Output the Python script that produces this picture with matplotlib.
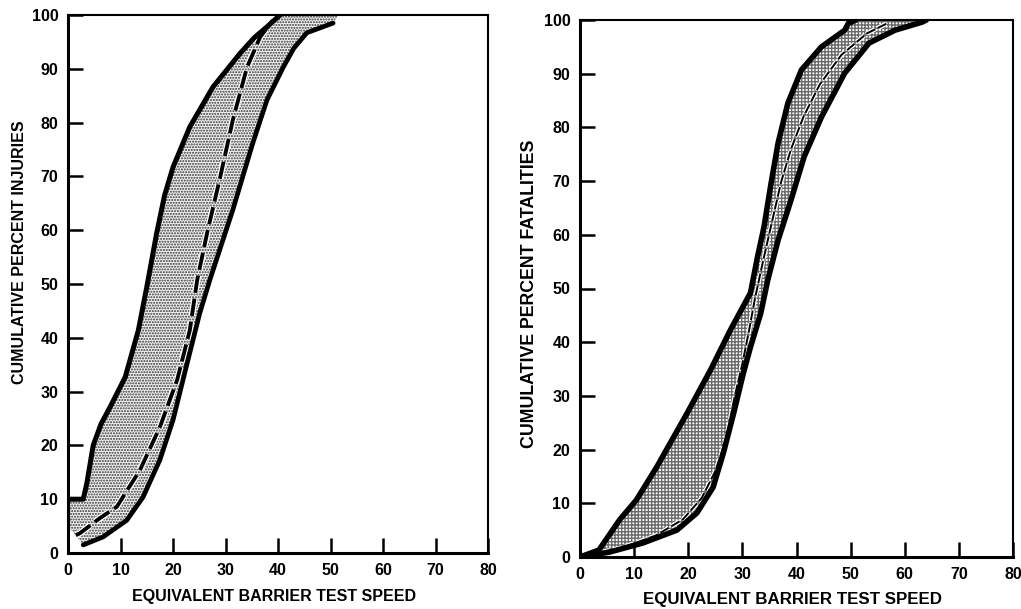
import matplotlib
matplotlib.use("Agg")
import matplotlib.pyplot as plt
import matplotlib.patheffects as pe

# ---------------- data ----------------
speed_ticks = [0, 10, 20, 30, 40, 50, 60, 70, 80]
pct_ticks = [0, 10, 20, 30, 40, 50, 60, 70, 80, 90, 100]
x_label = "EQUIVALENT BARRIER TEST SPEED"
y_label_inj = "CUMULATIVE PERCENT INJURIES"
y_label_fat = "CUMULATIVE PERCENT FATALITIES"

# Injuries: upper (left) envelope
inj_upper_x = [0, 2.9, 3.6, 4.8, 6.3, 8.0, 10.9, 13.4, 15.0, 16.9, 18.4, 20.0, 23.2, 27.6, 32.8, 35.5, 37.9, 40.4]
inj_upper_y = [10, 10, 13, 20, 24, 27.1, 32.7, 41.4, 49.4, 59.5, 66.5, 71.7, 79.2, 86.6, 92.9, 95.8, 97.8, 100]
# Injuries: lower (right) envelope
inj_lower_x = [2.9, 6.7, 11.2, 14.3, 17.5, 20.0, 22.7, 25.1, 27.0, 31.4, 35.2, 37.9, 41.0, 43.0, 45.5, 50.5]
inj_lower_y = [1.5, 3.0, 6.1, 10.4, 17.3, 24.7, 35.3, 44.6, 50.7, 63.8, 76.2, 84.2, 90.3, 93.8, 96.7, 98.5]
# Injuries: dashed median
inj_mid_x = [1.5, 2.3, 6.1, 9.3, 13.7, 17.5, 20.8, 23.2, 24.6, 26.5, 29.0, 31.4, 34.1, 36.6, 39.0]
inj_mid_y = [3.3, 3.7, 6.5, 8.6, 15.4, 23.4, 32.2, 41.4, 50.7, 59.5, 69.9, 80.5, 90.3, 95.9, 99.0]
inj_band_corner_low = (0, 5)
inj_band_corner_top = (51.5, 100)

# Fatalities: upper (left) envelope
fat_upper_x = [0, 3.5, 7.3, 10.4, 14.2, 19.8, 24.1, 27.8, 31.5, 32.8, 34.0, 35.3, 36.6, 38.4, 40.9, 44.6, 48.9, 49.6, 51.0]
fat_upper_y = [0, 1.3, 6.9, 10.6, 16.8, 26.8, 34.8, 42.3, 49.2, 55.9, 61.5, 69.6, 77.1, 84.5, 90.7, 95.0, 98.1, 99.4, 100]
# Fatalities: lower (right) envelope
fat_lower_x = [0, 5.4, 11.6, 17.9, 21.6, 24.6, 26.5, 28.4, 30.2, 31.5, 33.4, 34.7, 36.6, 39.0, 41.4, 44.6, 48.9, 53.4, 58.2, 63.2, 64.0]
fat_lower_y = [0, 0.9, 2.6, 5.0, 8.2, 13.0, 19.4, 26.8, 34.3, 39.1, 45.4, 51.6, 59.0, 66.5, 74.5, 81.9, 90.1, 95.7, 98.1, 99.6, 100]
# Fatalities: dashed median
fat_mid_x = [1.5, 8, 14, 19, 22.5, 25, 27, 28.6, 30, 31.2, 32.3, 33.8, 35.6, 37.2, 39, 41.3, 44.3, 48.3, 53, 57]
fat_mid_y = [0.4, 1.8, 4, 7, 11, 16, 22, 30, 36, 42, 48, 55, 63, 70, 76, 82, 88, 93.5, 97.5, 99.5]

# ---------------- style ----------------
plt.rcParams["font.family"] = ["Liberation Sans", "DejaVu Sans"]
plt.rcParams["font.weight"] = "bold"
plt.rcParams["hatch.linewidth"] = 1.0

fig = plt.figure(figsize=(10.21, 6.09), dpi=100)
ax1 = fig.add_axes([68 / 1021, 1 - 553 / 609, 420 / 1021, 538 / 609])
ax2 = fig.add_axes([580 / 1021, 1 - 557 / 609, 433 / 1021, 537 / 609])


def style_axes(ax, ylab, ylab_y, ylab_size, xlab_size):
    ax.set_xlim(0, 80)
    ax.set_ylim(0, 100)
    ax.set_xticks(speed_ticks)
    ax.set_yticks(pct_ticks)
    ax.tick_params(direction="in", length=11, width=1.8, labelsize=11.5, pad=7, color="black")
    for lab in ax.get_xticklabels() + ax.get_yticklabels():
        lab.set_fontweight("bold")
    for s in ("left", "bottom"):
        ax.spines[s].set_linewidth(2.2)
    for s in ("top", "right"):
        ax.spines[s].set_linewidth(1.5)
    ax.set_xlabel(x_label, fontsize=xlab_size, fontweight="bold")
    ax.set_ylabel(ylab, fontsize=ylab_size, fontweight="bold")
    ax.xaxis.set_label_coords(0.49, -0.066)
    ax.yaxis.set_label_coords(-0.098, ylab_y)


# ---------- left: injuries ----------
poly_x = inj_upper_x + [inj_band_corner_top[0]] + inj_lower_x[::-1] + [inj_band_corner_low[0]]
poly_y = inj_upper_y + [inj_band_corner_top[1]] + inj_lower_y[::-1] + [inj_band_corner_low[1]]
ax1.fill(poly_x, poly_y, facecolor="#f2f2f2", edgecolor="#333333", hatch="......", linewidth=0, zorder=1)
ax1.plot(inj_upper_x, inj_upper_y, color="black", lw=3.6, solid_joinstyle="round", solid_capstyle="round", zorder=3)
ax1.plot(inj_lower_x, inj_lower_y, color="black", lw=3.4, solid_joinstyle="round", solid_capstyle="round", zorder=3)
ax1.plot(inj_mid_x, inj_mid_y, color="black", lw=2.8, dashes=(4.5, 1.5), zorder=2,
         path_effects=[pe.Stroke(linewidth=4.6, foreground="white"), pe.Normal()])
style_axes(ax1, y_label_inj, 0.56, 11.5, 11.5)

# ---------- right: fatalities ----------
poly_x = fat_upper_x + fat_lower_x[::-1]
poly_y = fat_upper_y + fat_lower_y[::-1]
ax2.fill(poly_x, poly_y, facecolor="white", edgecolor="#6a6a6a", hatch="+++++", linewidth=0, zorder=1)
ax2.plot(fat_upper_x, fat_upper_y, color="black", lw=4.0, solid_joinstyle="round", solid_capstyle="round", zorder=3)
ax2.plot(fat_lower_x, fat_lower_y, color="black", lw=4.0, solid_joinstyle="round", solid_capstyle="round", zorder=3)
ax2.plot(fat_mid_x, fat_mid_y, color="black", lw=1.4, dashes=(5, 1.5), zorder=2,
         path_effects=[pe.Stroke(linewidth=3.2, foreground="white"), pe.Normal()])
style_axes(ax2, y_label_fat, 0.49, 12.8, 12.2)

fig.savefig("out.png", dpi=100, facecolor="white")
